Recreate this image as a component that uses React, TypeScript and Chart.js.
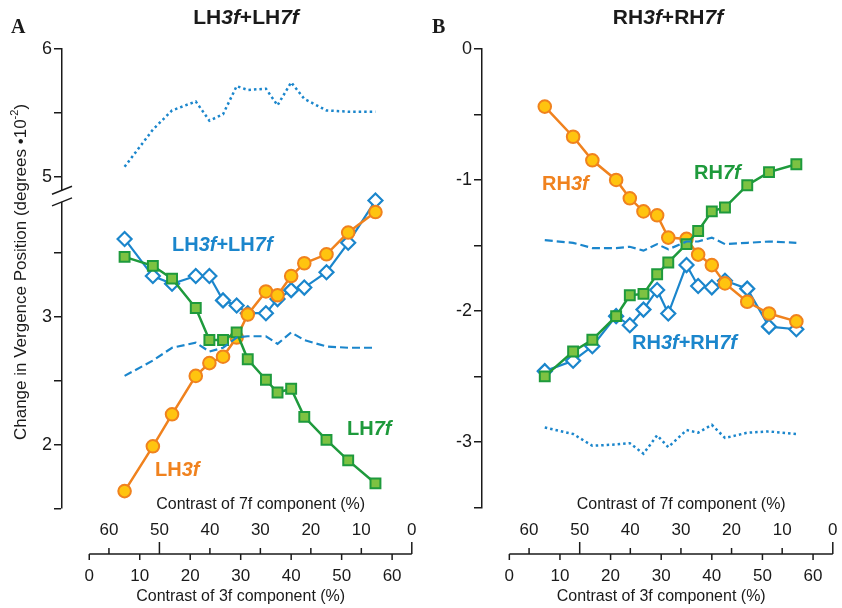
import { useEffect, useRef } from "react";
import { Chart, registerables } from "chart.js";

Chart.register(...registerables);

// contrast of 3f component (%) at each sample; 7f contrast = ~64 - 3f
const contrast3f = [7, 12.6, 16.4, 21.1, 23.8, 26.5, 29.2, 31.4, 35, 37.3, 40, 42.6, 47, 51.3, 56.7];

// panel A (left hand)
const lh3f = [1.64, 1.99, 2.24, 2.54, 2.64, 2.69, 2.84, 3.02, 3.2, 3.17, 3.32, 3.42, 3.49, 3.66, 3.82];
const lh7f = [3.47, 3.4, 3.3, 3.07, 2.82, 2.82, 2.88, 2.67, 2.51, 2.41, 2.44, 2.22, 2.04, 1.88, 1.7];
const lhSum = [3.61, 3.32, 3.26, 3.32, 3.32, 3.13, 3.09, 3.03, 3.03, 3.14, 3.21, 3.23, 3.35, 3.58, 3.91];
const lhDashed = [2.54, 2.66, 2.76, 2.8, 2.73, 2.76, 2.84, 2.85, 2.85, 2.79, 2.88, 2.82, 2.77, 2.76, 2.76];
const lhDotted = [5.08, 5.37, 5.52, 5.59, 5.44, 5.49, 5.71, 5.68, 5.69, 5.56, 5.74, 5.61, 5.52, 5.51, 5.51];

// panel B (right hand)
const rh3f = [-0.44, -0.67, -0.85, -1.0, -1.14, -1.24, -1.27, -1.44, -1.45, -1.57, -1.65, -1.79, -1.93, -2.02, -2.08];
const rh7f = [-2.5, -2.31, -2.22, -2.04, -1.88, -1.87, -1.72, -1.63, -1.49, -1.39, -1.24, -1.21, -1.04, -0.94, -0.88];
const rhSum = [-2.46, -2.38, -2.27, -2.04, -2.11, -1.99, -1.84, -2.02, -1.65, -1.81, -1.82, -1.77, -1.83, -2.12, -2.14];
const rhDashed = [-1.46, -1.48, -1.52, -1.52, -1.51, -1.54, -1.49, -1.53, -1.47, -1.47, -1.44, -1.49, -1.48, -1.47, -1.48];
const rhDotted = [-2.89, -2.94, -3.03, -3.02, -3.01, -3.09, -2.95, -3.04, -2.91, -2.93, -2.87, -2.97, -2.93, -2.92, -2.94];

const ticks3f = [0, 10, 20, 30, 40, 50, 60];
const ticks7f = [60, 50, 40, 30, 20, 10, 0];
const SUM_3F_7F = 63.9;

// left axis break: values above the break are shifted down by this much
const BREAK = 0.906;
const leftTicks = [1.5, 2, 2.5, 3, 3.5, 5, 5.5, 6];
const leftLabels: Record<string, string> = { "2": "2", "3": "3", "5": "5", "6": "6" };
const rightTicks = [-3.5, -3, -2.5, -2, -1.5, -1, -0.5, 0];
const rightLabels: Record<string, string> = { "-3": "-3", "-2": "-2", "-1": "-1", "0": "0" };

const ORANGE = "#F0821E";
const YELLOW = "#FFC40F";
const GREEN = "#1E9A3C";
const LGREEN = "#7DC242";
const BLUE = "#1B86CC";
const INK = "#1a1a1a";
const FONT = '"Liberation Sans", Arial, sans-serif';

type Seg = { t: string; i?: boolean };

function drawRich(ctx: CanvasRenderingContext2D, segs: Seg[], x: number, y: number, size: number, color: string, align: "left" | "center") {
  ctx.save();
  ctx.fillStyle = color;
  ctx.textBaseline = "middle";
  ctx.textAlign = "left";
  const fontOf = (s: Seg) => `${s.i ? "italic " : ""}bold ${size}px ${FONT}`;
  let w = 0;
  segs.forEach((s) => { ctx.font = fontOf(s); w += ctx.measureText(s.t).width; });
  let cx = align === "center" ? x - w / 2 : x;
  segs.forEach((s) => { ctx.font = fontOf(s); ctx.fillText(s.t, cx, y); cx += ctx.measureText(s.t).width; });
  ctx.restore();
}

interface Label { segs: Seg[]; x: number; y: number; color: string }

interface PanelProps {
  left: number;
  letter: string;
  title: Seg[];
  titleX: number;
  s3f: number[];
  s7f: number[];
  sum: number[];
  dashed: number[];
  dotted: number[];
  dottedShift: number;
  yMin: number;
  yMax: number;
  yTicks: number[];
  yLabels: Record<string, string>;
  tickShift: (v: number) => number;
  labels: Label[];
  hasBreak: boolean;
  yTitle: boolean;
}

const pts = (ys: number[], shift = 0) => ys.map((y, i) => ({ x: contrast3f[i], y: y - shift }));

const Panel = (p: PanelProps) => {
  const canvasRef = useRef<HTMLCanvasElement>(null);

  useEffect(() => {
    if (!canvasRef.current) return;
    const overlay = {
      id: "overlay",
      afterDraw(chart: Chart) {
        const { ctx } = chart;
        const x = chart.scales.x;
        const y = chart.scales.y;
        const ax = x.getPixelForValue(x.min);

        if (p.hasBreak) {
          const yTop = y.getPixelForValue(3.99);
          const yBot = y.getPixelForValue(3.9);
          ctx.save();
          ctx.fillStyle = "#fff";
          ctx.fillRect(ax - 3, yTop, 6, yBot - yTop);
          ctx.strokeStyle = INK;
          ctx.lineWidth = 1.5;
          [yTop, yBot].forEach((yy) => {
            ctx.beginPath();
            ctx.moveTo(ax - 10, yy + 4);
            ctx.lineTo(ax + 10, yy - 4);
            ctx.stroke();
          });
          ctx.restore();
        }

        // combined contrast axis
        const axisY = 554;
        ctx.save();
        ctx.strokeStyle = INK;
        ctx.fillStyle = INK;
        ctx.lineWidth = 1.5;
        ctx.beginPath();
        ctx.moveTo(x.getPixelForValue(0), axisY);
        ctx.lineTo(x.getPixelForValue(SUM_3F_7F), axisY);
        ctx.stroke();
        ctx.font = `17px ${FONT}`;
        ctx.textAlign = "center";
        ctx.textBaseline = "middle";
        ticks3f.forEach((v) => {
          const px = x.getPixelForValue(v);
          ctx.beginPath();
          ctx.moveTo(px, axisY);
          ctx.lineTo(px, axisY + 6);
          ctx.stroke();
          ctx.fillText(String(v), px, 576);
        });
        ticks7f.forEach((v) => {
          const px = x.getPixelForValue(SUM_3F_7F - v);
          const len = v === 50 || v === 0 ? 12 : 6;
          ctx.beginPath();
          ctx.moveTo(px, axisY);
          ctx.lineTo(px, axisY - len);
          ctx.stroke();
          ctx.fillText(String(v), px, 530);
        });
        ctx.font = `16px ${FONT}`;
        const mid = x.getPixelForValue(30);
        ctx.fillText("Contrast of 7f component (%)", mid + 20, 505);
        ctx.fillText("Contrast of 3f component (%)", mid, 597);

        // panel letter
        ctx.font = `bold 20px "Liberation Serif", "Times New Roman", serif`;
        ctx.textAlign = "left";
        ctx.fillText(p.letter, 11, 28);

        if (p.yTitle) {
          ctx.save();
          ctx.translate(21, 272);
          ctx.rotate(-Math.PI / 2);
          ctx.font = `17px ${FONT}`;
          const main = "Change in Vergence Position (degrees \u202210";
          const sup = "-2";
          const close = ")";
          const w1 = ctx.measureText(main).width;
          ctx.font = `11px ${FONT}`;
          const w2 = ctx.measureText(sup).width;
          ctx.font = `17px ${FONT}`;
          const w3 = ctx.measureText(close).width;
          let cx = -(w1 + w2 + w3) / 2;
          ctx.fillText(main, cx, 0);
          cx += w1;
          ctx.font = `11px ${FONT}`;
          ctx.fillText(sup, cx, -6);
          cx += w2;
          ctx.font = `17px ${FONT}`;
          ctx.fillText(close, cx, 0);
          ctx.restore();
        }
        ctx.restore();

        drawRich(ctx, p.title, p.titleX, 18, 21, INK, "center");
        p.labels.forEach((l) => drawRich(ctx, l.segs, l.x, l.y, 20, l.color, "left"));
      },
    };

    const chart = new Chart(canvasRef.current, {
      type: "line",
      data: {
        datasets: [
          { data: pts(p.dotted, p.dottedShift), borderColor: BLUE, borderWidth: 2.5, borderDash: [2.5, 3], pointRadius: 0, tension: 0 },
          { data: pts(p.dashed), borderColor: BLUE, borderWidth: 2.2, borderDash: [8, 4], pointRadius: 0 },
          { data: pts(p.s7f), borderColor: GREEN, borderWidth: 2.5, pointStyle: "rect", pointRadius: 7, pointBackgroundColor: LGREEN, pointBorderColor: GREEN, pointBorderWidth: 2 },
          { data: pts(p.s3f), borderColor: ORANGE, borderWidth: 2.5, pointStyle: "circle", pointRadius: 6.3, pointBackgroundColor: YELLOW, pointBorderColor: ORANGE, pointBorderWidth: 2 },
          { data: pts(p.sum), borderColor: BLUE, borderWidth: 2.2, pointStyle: "rectRot", pointRadius: 7, pointBackgroundColor: "#fff", pointBorderColor: BLUE, pointBorderWidth: 2.2 },
        ],
      },
      options: {
        animation: false,
        responsive: false,
        layout: { padding: { left: p.left, right: 1, top: 49, bottom: 100 } },
        plugins: { legend: { display: false }, tooltip: { enabled: false } },
        scales: {
          x: { type: "linear", display: false, min: -5.4, max: SUM_3F_7F },
          y: {
            type: "linear",
            min: p.yMin,
            max: p.yMax,
            afterFit: (s: any) => { s.width = 54; },
            afterBuildTicks: (s: any) => { s.ticks = p.yTicks.map((v) => ({ value: p.tickShift(v) })); },
            grid: { display: true, drawOnChartArea: false, drawTicks: true, tickLength: 8, color: INK, lineWidth: 1.5 },
            border: { display: true, color: INK, width: 1.5 },
            ticks: {
              color: INK,
              padding: 2,
              font: { size: 18, family: FONT },
              callback: (_v: any, i: number) => p.yLabels[String(p.yTicks[i])] ?? "",
            },
          },
        },
      },
      plugins: [overlay],
    });

    return () => chart.destroy();
  }, []);

  return <canvas ref={canvasRef} width={421} height={608} style={{ display: "block", width: 421, height: 608 }} />;
};

const App = () => {
  const lhLabels: Label[] = [
    { segs: [{ t: "LH" }, { t: "3f", i: true }, { t: "+LH" }, { t: "7f", i: true }], x: 172, y: 245, color: BLUE },
    { segs: [{ t: "LH" }, { t: "3f", i: true }], x: 155, y: 470, color: ORANGE },
    { segs: [{ t: "LH" }, { t: "7f", i: true }], x: 347, y: 429, color: GREEN },
  ];
  const rhLabels: Label[] = [
    { segs: [{ t: "RH" }, { t: "3f", i: true }, { t: "+RH" }, { t: "7f", i: true }], x: 211, y: 343, color: BLUE },
    { segs: [{ t: "RH" }, { t: "3f", i: true }], x: 121, y: 184, color: ORANGE },
    { segs: [{ t: "RH" }, { t: "7f", i: true }], x: 273, y: 173, color: GREEN },
  ];
  return (
    <div style={{ position: "absolute", left: 0, top: 0, width: 842, height: 608, display: "flex", background: "#fff" }}>
      <Panel
        left={8}
        letter="A"
        title={[{ t: "LH" }, { t: "3f", i: true }, { t: "+LH" }, { t: "7f", i: true }]}
        titleX={246}
        s3f={lh3f}
        s7f={lh7f}
        sum={lhSum}
        dashed={lhDashed}
        dotted={lhDotted}
        dottedShift={BREAK}
        yMin={1.508}
        yMax={6 - BREAK}
        yTicks={leftTicks}
        yLabels={leftLabels}
        tickShift={(v) => (v > 4 ? v - BREAK : v)}
        labels={lhLabels}
        hasBreak={true}
        yTitle={true}
      />
      <Panel
        left={7}
        letter="B"
        title={[{ t: "RH" }, { t: "3f", i: true }, { t: "+RH" }, { t: "7f", i: true }]}
        titleX={247}
        s3f={rh3f}
        s7f={rh7f}
        sum={rhSum}
        dashed={rhDashed}
        dotted={rhDotted}
        dottedShift={0}
        yMin={-3.505}
        yMax={0}
        yTicks={rightTicks}
        yLabels={rightLabels}
        tickShift={(v) => v}
        labels={rhLabels}
        hasBreak={false}
        yTitle={false}
      />
    </div>
  );
};

export default App;
